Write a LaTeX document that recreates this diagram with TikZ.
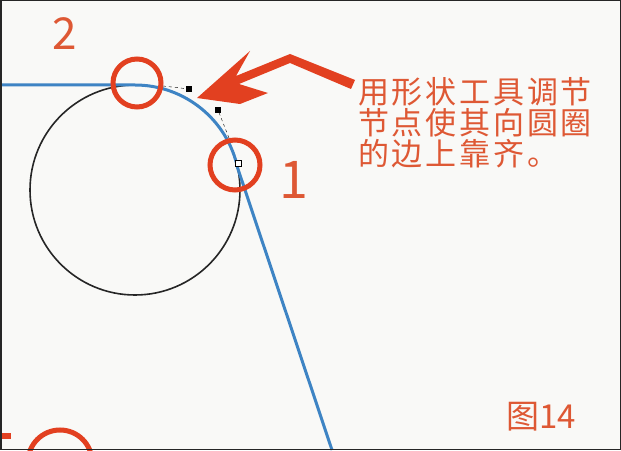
\documentclass[tikz,border=0pt]{standalone}
\usepackage{fontspec}
\newfontfamily\cjk{Noto Sans CJK SC}
\newfontfamily\cjkwide[LetterSpace=9]{Noto Sans CJK SC}
\usetikzlibrary{positioning}

\definecolor{note}{RGB}{222,88,52}
\definecolor{ringred}{RGB}{226,64,32}
\definecolor{pathblue}{RGB}{62,132,196}
\definecolor{paper}{RGB}{249,249,247}

\begin{document}
\begin{tikzpicture}[x=1pt, y=1pt,
	handle/.style={draw=black, fill=black, minimum size=5pt, inner sep=0pt},
	ring/.style={draw=ringred, line width=5pt},
	num/.style={text=note, inner sep=0pt}]
	\useasboundingbox (0, 0) rectangle (621, 450);
	\begin{scope}
	\clip (0, 0) rectangle (621, 450);
	\fill[paper] (0, 0) rectangle (621, 450);

	% circle and the blue outline
	\draw[black!85, line width=1.6pt] (135, 260) circle (105);
	\draw[pathblue, line width=3pt] (0, 365) -- (135, 365) arc (90:12:105) -- (332, 0);

	% nodes with their handles
	\node[handle] (n1) at (189, 361) {};
	\node[handle] (n2) at (218, 340) {};
	\node[handle, fill=white, minimum size=6pt] (n3) at (238, 287) {};
	\coordinate (h1) at (163, 364);
	\coordinate (h2) at (229, 312);
	\draw[dashed, black, thin] (h1) -- (n1);
	\draw[dashed, black, thin] (n2) -- (h2);

	% red rings
	\draw[ring] (137, 367) circle (24);
	\draw[ring] (235, 285) circle (25);
	\draw[ring] (60, -12) circle (32);
	\fill[ringred] (0, 11) rectangle (11, 17);

	% big arrow
	\fill[ringred] (197, 352) -- (250, 399) -- (236, 374) -- (290, 396) -- (355, 370)
		-- (351, 361) -- (290, 387) -- (239, 366) -- (268, 357) -- (240, 346) -- cycle;

	\node[num, font=\cjk\fontsize{44}{44}\selectfont] (two) at (65, 416) {2};
	\node[num, font=\cjk\fontsize{52}{52}\selectfont] (one) at (294, 270) {1};
	\node[num, anchor=north west, align=left, font=\cjkwide\fontsize{31}{31}\selectfont] (tip) at (358, 373) {用形状工具调节\\节点使其向圆圈\\的边上靠齐。};
	\node[num, font=\cjk\fontsize{33}{33}\selectfont] (fig) at (541, 33) {图14};
	\end{scope}
	\draw[black!85, line width=1.5pt] (0.75, 0.75) rectangle (620.25, 449.25);
\end{tikzpicture}
\end{document}
